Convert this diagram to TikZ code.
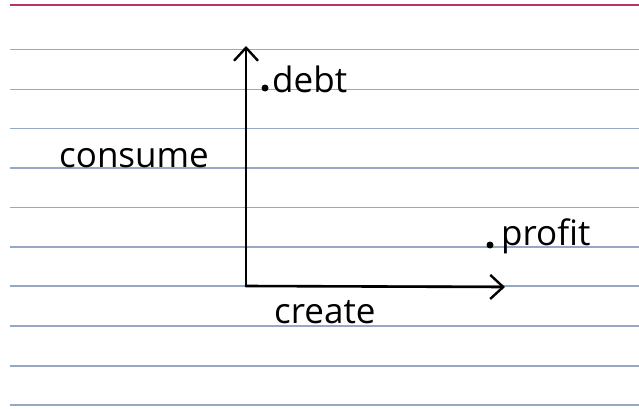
\documentclass[tikz,border=0pt]{standalone}
\usepackage{fontspec}
\setmainfont{Open Sans}
\usetikzlibrary{arrows.meta,positioning}

\definecolor{ruleblue}{RGB}{150,168,195}
\definecolor{rulered}{RGB}{185,55,95}

\begin{document}
\begin{tikzpicture}[
  x=1pt, y=1pt,
  hand/.style={font=\fontsize{35}{40}\selectfont, inner sep=0pt, anchor=base west},
  rule/.style={draw=ruleblue, line width=1.3pt},
  axis/.style={-{Straight Barb[length=13pt,width=24pt,line width=2.4pt]},
               line width=2.6pt, line cap=round},
  dot/.style={circle, fill=black, inner sep=0pt, minimum size=7pt}
]
\useasboundingbox[fill=white] (0,0) rectangle (639,408);

% index card rules
\draw[draw=rulered, line width=2.4pt] (10,403) -- (639,403);
\foreach \y in {358.5,318.5,279.5,240,200.5,161,122,82,42,3}
  \draw[rule] (10,\y) -- (639,\y);

% axes
\coordinate (origin) at (246,122);
\coordinate (ytip) at (246,362);
\coordinate (xtip) at (505,121);
\draw[axis] (origin) -- (ytip);
\draw[axis] (origin) -- (xtip);

\node[hand] (consume) at (59,241) {consume};
\node[hand] (create) at (274,85) {create};

% points
\node[dot] (debtdot) at (265,320) {};
\node[hand] (debt) at (272,316) {debt};
\node[dot] (profitdot) at (490,163) {};
\node[hand] (profit) at (501,163) {profit};
\end{tikzpicture}
\end{document}
